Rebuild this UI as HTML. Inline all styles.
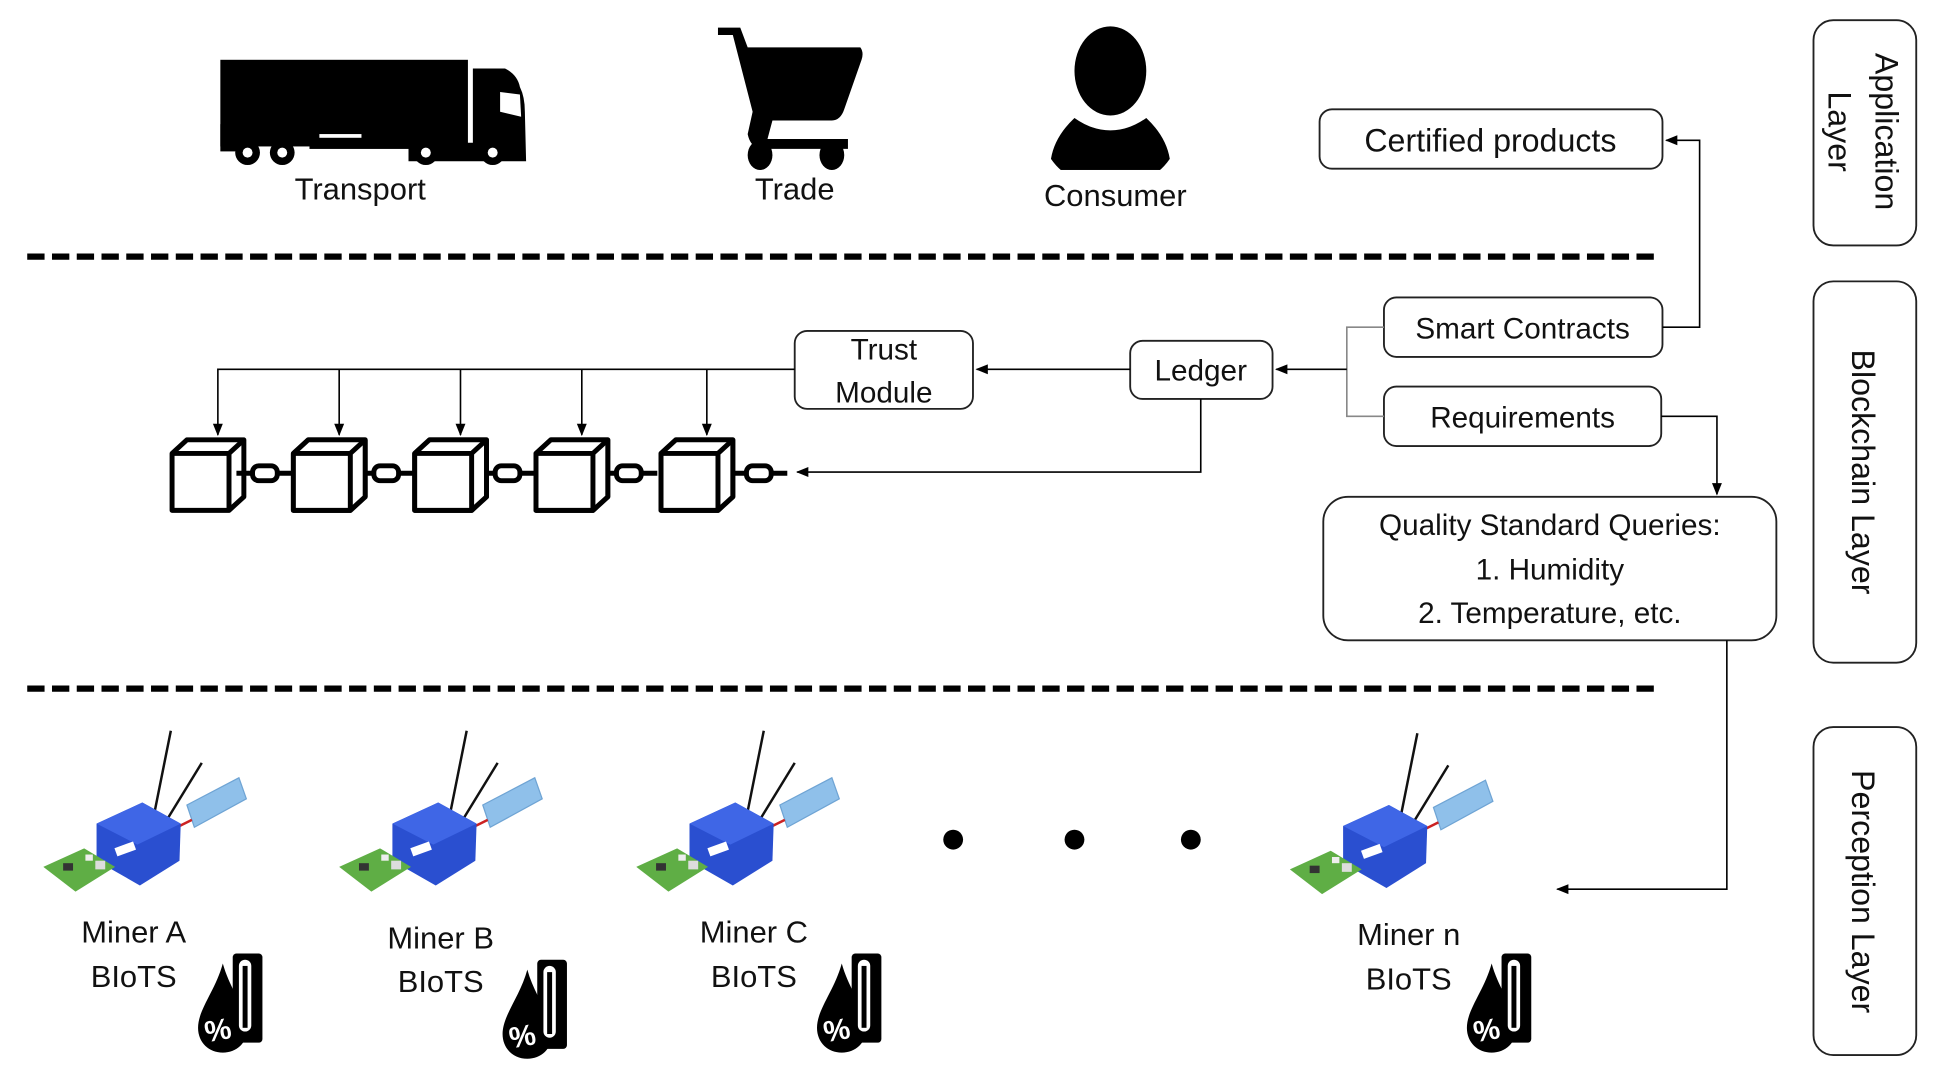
<!DOCTYPE html>
<html><head><meta charset="utf-8"><style>
html,body{margin:0;padding:0;background:#fff;}
svg{display:block;}
text{font-family:"Liberation Sans",sans-serif;fill:#111;}
</style></head><body>
<svg width="1941" height="1074" viewBox="0 0 1568 867" xmlns="http://www.w3.org/2000/svg">
<defs>
<marker id="ar" markerWidth="10" markerHeight="10" refX="9" refY="5" orient="auto" markerUnits="userSpaceOnUse">
<path d="M0,1 L10,5 L0,9 Z" fill="#000"/></marker>
<g id="cube">
<path d="M0,11 L12,0 L58,0 L58,46 L46,57 L0,57 Z" fill="#fff" stroke="#000" stroke-width="4" stroke-linejoin="round"/>
<path d="M0,11 L46,11 L58,0 M46,11 L46,57" fill="none" stroke="#000" stroke-width="4"/>
</g>
<g id="link">
<line x1="0" y1="0" x2="46" y2="0" stroke="#000" stroke-width="4"/>
<rect x="13" y="-6" width="20" height="12" rx="5" fill="#fff" stroke="#000" stroke-width="4"/>
</g>
<g id="miner">
<line x1="88" y1="85" x2="105" y2="0" stroke="#111" stroke-width="2"/>
<line x1="92" y1="88" x2="130" y2="26" stroke="#111" stroke-width="2"/>
<polygon points="118,60 160,38 166,55 124,78" fill="#8fc0ea" stroke="#6fa4d4"/>
<line x1="110" y1="78" x2="122" y2="72" stroke="#c22" stroke-width="2"/>
<polygon points="45,75 82,58 113,75 112,105 80,125 45,105" fill="#2a4fd0"/>
<polygon points="45,75 82,58 113,75 78,92" fill="#3f66e6"/>
<rect x="60" y="92" width="16" height="7" fill="#fff" transform="rotate(-20 68 95)"/>
<polygon points="2,110 35,95 60,110 28,130" fill="#5fae45"/>
<rect x="18" y="107" width="8" height="6" fill="#333"/>
<rect x="36" y="100" width="6" height="5" fill="#eee"/>
<rect x="44" y="105" width="8" height="7" fill="#ddd"/>
</g>
<g id="thermo">
<path d="M20,8 C14,30 0,45 0,60 C0,72 9,80 20,80 C31,80 40,72 40,60 C40,45 26,30 20,8 Z" fill="#000"/>
<rect x="28" y="0" width="24" height="72" rx="3" fill="#000"/>
<rect x="33" y="5" width="10" height="58" rx="5" fill="#fff"/>
<rect x="36" y="10" width="4" height="50" fill="#000"/>
<text x="16" y="70" font-size="24" font-weight="bold" style="fill:#fff" text-anchor="middle" transform="rotate(-10 16 62)">%</text>
</g>
</defs>

<line x1="22" y1="207" x2="1338" y2="207" stroke="#000" stroke-width="5" stroke-dasharray="14,6"/>
<line x1="22" y1="556" x2="1338" y2="556" stroke="#000" stroke-width="5" stroke-dasharray="14,6"/>

<rect x="1465" y="16" width="83" height="182" rx="16" fill="#fff" stroke="#222" stroke-width="1.5"/>
<text transform="translate(1515,106) rotate(90)" font-size="26" text-anchor="middle">Application</text>
<text transform="translate(1477,106) rotate(90)" font-size="26" text-anchor="middle">Layer</text>
<rect x="1465" y="227" width="83" height="308" rx="16" fill="#fff" stroke="#222" stroke-width="1.5"/>
<text transform="translate(1496,381) rotate(90)" font-size="26" text-anchor="middle">Blockchain Layer</text>
<rect x="1465" y="587" width="83" height="265" rx="16" fill="#fff" stroke="#222" stroke-width="1.5"/>
<text transform="translate(1496,720) rotate(90)" font-size="26" text-anchor="middle">Perception Layer</text>

<g fill="#000">
<rect x="178" y="48" width="200" height="70"/>
<rect x="178" y="100" width="30" height="22"/>
<path d="M382,55 L408,55 Q418,60 420,70 Q424,78 424,90 L425,130 L330,130 L330,115 L382,115 Z"/>
<rect x="250" y="112" width="80" height="8"/>
<circle cx="200" cy="123" r="10"/><circle cx="228" cy="123" r="10"/>
<circle cx="344" cy="123" r="10"/><circle cx="398" cy="123" r="10"/>
</g>
<g fill="#fff">
<circle cx="200" cy="123" r="4"/><circle cx="228" cy="123" r="4"/><circle cx="344" cy="123" r="4"/><circle cx="398" cy="123" r="4"/>
<polygon points="404,74 420,76 421,94 404,90"/>
<rect x="258" y="108" width="34" height="3"/>
</g>
<g fill="#000">
<path d="M580,22 L598,22 L604,38 L695,38 Q698,42 696,48 L682,88 Q679,97 672,97 L624,97 L620,112 L685,112 L685,120 L614,120 Q606,118 604,108 L608,90 L592,28 L580,28 Z"/>
<ellipse cx="614" cy="125" rx="10" ry="12"/><ellipse cx="672" cy="125" rx="10" ry="12"/>
<ellipse cx="897" cy="57" rx="29" ry="36"/>
<path d="M868,95 Q882,105 897,105 Q912,105 926,95 Q942,110 945,128 Q930,150 897,150 Q864,150 849,128 Q852,110 868,95 Z"/>
</g>
<rect x="840" y="137" width="120" height="20" fill="#fff"/>
<text x="291" y="161" font-size="25" text-anchor="middle">Transport</text>
<text x="642" y="161" font-size="25" text-anchor="middle">Trade</text>
<text x="901" y="166" font-size="25" text-anchor="middle">Consumer</text>

<g fill="#fff" stroke="#222" stroke-width="1.5">
<rect x="1066" y="88" width="277" height="48" rx="10"/>
<rect x="1118" y="240" width="225" height="48" rx="10"/>
<rect x="1118" y="312" width="224" height="48" rx="10"/>
<rect x="913" y="275" width="115" height="47" rx="10"/>
<rect x="642" y="267" width="144" height="63" rx="10"/>
<rect x="1069" y="401" width="366" height="116" rx="20"/>
</g>
<text x="1204" y="122" font-size="26" text-anchor="middle">Certified products</text>
<text x="1230" y="273" font-size="24" text-anchor="middle">Smart Contracts</text>
<text x="1230" y="345" font-size="24" text-anchor="middle">Requirements</text>
<text x="970" y="307" font-size="24" text-anchor="middle">Ledger</text>
<text x="714" y="290" font-size="24" text-anchor="middle">Trust</text>
<text x="714" y="325" font-size="24" text-anchor="middle">Module</text>
<text x="1252" y="432" font-size="24" text-anchor="middle">Quality Standard Queries:</text>
<text x="1252" y="468" font-size="24" text-anchor="middle">1. Humidity</text>
<text x="1252" y="503" font-size="24" text-anchor="middle">2. Temperature, etc.</text>

<g fill="none" stroke="#000" stroke-width="1.3">
<polyline points="1343,264 1373,264 1373,113 1346,113" marker-end="url(#ar)"/>
<polyline points="1118,264 1088,264 1088,336 1118,336" stroke="#888"/>
<line x1="1088" y1="298" x2="1031" y2="298" marker-end="url(#ar)"/>
<line x1="913" y1="298" x2="789" y2="298" marker-end="url(#ar)"/>
<polyline points="642,298 176,298 176,351" marker-end="url(#ar)"/>
<line x1="274" y1="298" x2="274" y2="351" marker-end="url(#ar)"/>
<line x1="372" y1="298" x2="372" y2="351" marker-end="url(#ar)"/>
<line x1="470" y1="298" x2="470" y2="351" marker-end="url(#ar)"/>
<line x1="571" y1="298" x2="571" y2="351" marker-end="url(#ar)"/>
<polyline points="970,322 970,381 644,381" marker-end="url(#ar)"/>
<polyline points="1342,336 1387,336 1387,399" marker-end="url(#ar)"/>
<polyline points="1395,517 1395,718 1258,718" marker-end="url(#ar)"/>
</g>

<use href="#cube" x="139" y="355"/><use href="#cube" x="237" y="355"/><use href="#cube" x="335" y="355"/><use href="#cube" x="433" y="355"/><use href="#cube" x="534" y="355"/>
<use href="#link" x="191" y="382"/><use href="#link" x="289" y="382"/><use href="#link" x="387" y="382"/><use href="#link" x="485" y="382"/><use href="#link" x="590" y="382"/>
<use href="#cube" x="237" y="355"/><use href="#cube" x="335" y="355"/><use href="#cube" x="433" y="355"/><use href="#cube" x="534" y="355"/>

<use href="#miner" x="33" y="590"/>
<use href="#miner" x="272" y="590"/>
<use href="#miner" x="512" y="590"/>
<use href="#miner" x="1040" y="592"/>
<circle cx="770" cy="678" r="8" fill="#000"/><circle cx="868" cy="678" r="8" fill="#000"/><circle cx="962" cy="678" r="8" fill="#000"/>
<g font-size="25" text-anchor="middle">
<text x="108" y="761">Miner A</text><text x="108" y="797">BIoTS</text>
<text x="356" y="766">Miner B</text><text x="356" y="801">BIoTS</text>
<text x="609" y="761">Miner C</text><text x="609" y="797">BIoTS</text>
<text x="1138" y="763">Miner n</text><text x="1138" y="799">BIoTS</text>
</g>
<use href="#thermo" x="160" y="770"/>
<use href="#thermo" x="406" y="775"/>
<use href="#thermo" x="660" y="770"/>
<use href="#thermo" x="1185" y="770"/>
</svg>
</body></html>
